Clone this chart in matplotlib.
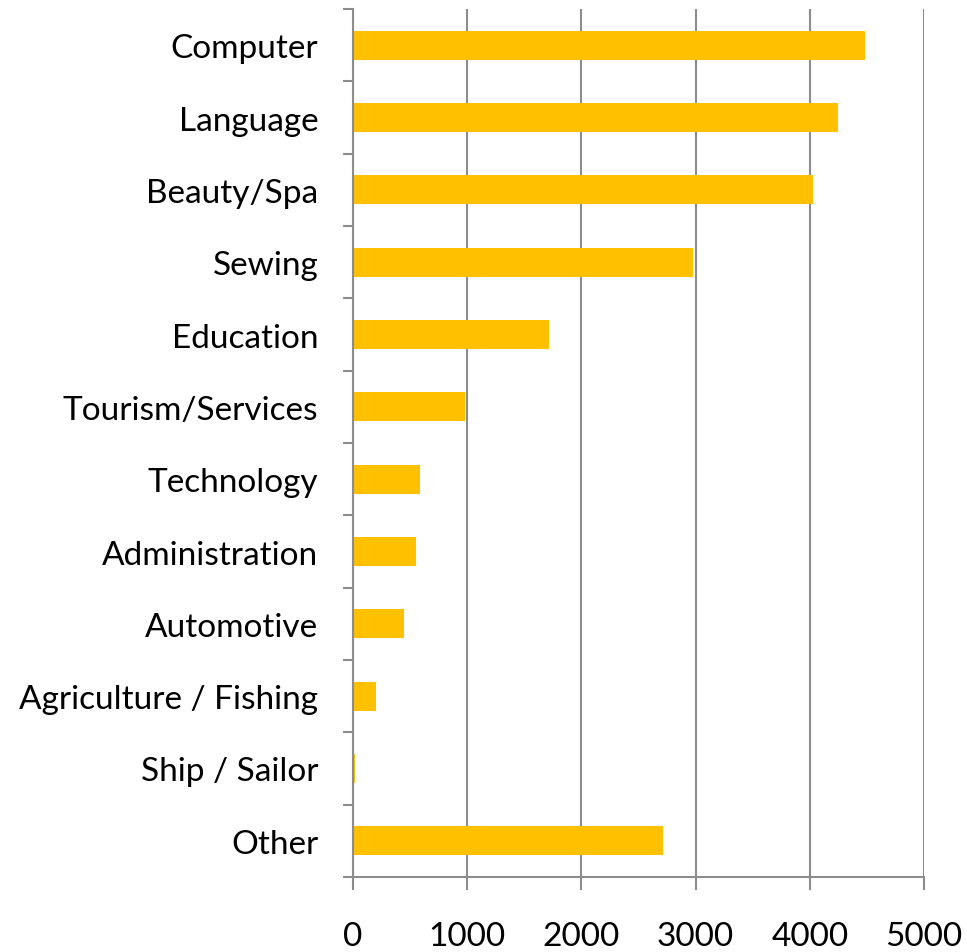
import numpy as np
import matplotlib.pyplot as plt

# Course categories, top to bottom
categories = ['Computer', 'Language', 'Beauty/Spa', 'Sewing', 'Education',
              'Tourism/Services', 'Technology', 'Administration', 'Automotive',
              'Agriculture / Fishing', 'Ship / Sailor', 'Other']
counts = [4480, 4250, 4030, 2980, 1720, 985, 590, 555, 450, 200, 20, 2715]
xticks = [0, 1000, 2000, 3000, 4000, 5000]

plt.rcParams['font.family'] = ['Lato', 'DejaVu Sans']
grid_color = '#8c8c8c'

fig = plt.figure(figsize=(9.67, 9.53), dpi=100)
ax = fig.add_axes([0.365, 0.0787, 0.5905, 0.9108])

ypos = np.arange(len(categories))
ax.barh(ypos, counts, height=0.4, color='#FFC000', zorder=3)

ax.set_xlim(0, 5000)
ax.set_ylim(len(categories) - 0.5, -0.5)

# gridlines
ax.set_xticks(xticks)
ax.set_xticklabels([str(t) for t in xticks])
ax.xaxis.grid(True, color=grid_color, linewidth=1.5, zorder=0)

# category labels on minor ticks, tick marks at boundaries
ax.set_yticks(np.arange(-0.5, len(categories), 1.0))
ax.set_yticklabels([])
ax.set_yticks(ypos, minor=True)
ax.set_yticklabels(categories, minor=True)
ax.tick_params(axis='y', which='minor', length=0, pad=25, labelsize=24)
ax.tick_params(axis='y', which='major', length=7.5, width=1.5, color=grid_color)
ax.tick_params(axis='x', length=9, width=1.5, color=grid_color, pad=23, labelsize=24)

for side in ['top', 'right']:
    ax.spines[side].set_visible(False)
for side in ['left', 'bottom']:
    ax.spines[side].set_color(grid_color)
    ax.spines[side].set_linewidth(1.5)
    ax.spines[side].set_zorder(4)

fig.savefig('out.png', dpi=100, facecolor='white')
